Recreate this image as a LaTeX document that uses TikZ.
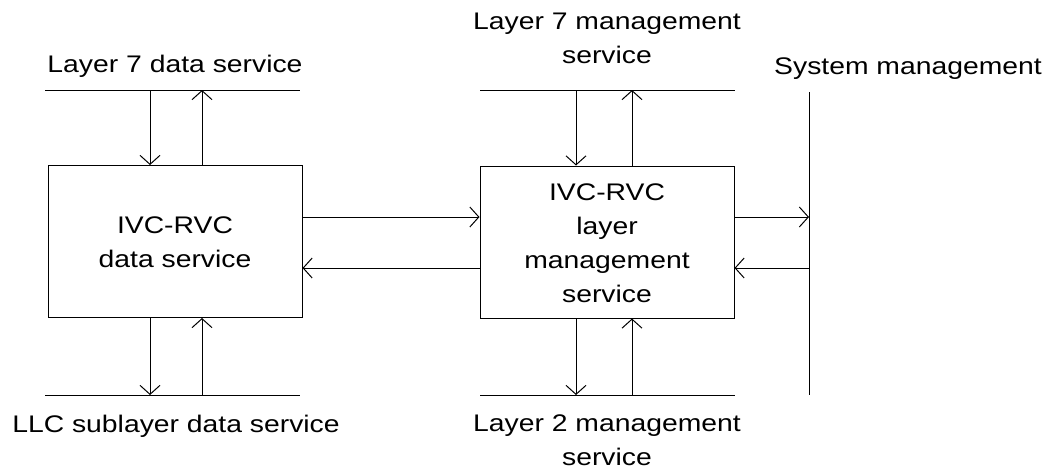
\documentclass[tikz,border=0pt]{standalone}
\usepackage{fontspec}
\setmainfont{Liberation Sans}[FakeStretch=1.18]
\usetikzlibrary{arrows.meta}
\begin{document}
\begin{tikzpicture}[x=1pt,y=-1pt,
  every node/.style={font=\fontsize{24}{34}\selectfont, inner sep=0pt},
  blk/.style={draw, line width=1pt, minimum width=254pt, minimum height=152pt, align=center},
  bus/.style={line width=1pt},
  arr/.style={line width=1pt, -{Straight Barb[length=9pt,width=20pt]}},
  lbl/.style={align=center, anchor=base}]
\useasboundingbox (0,0) rectangle (1053,472);
% boxes
\node[blk] (L) at (175,241.5) {};
\node[blk] (R) at (607,242) {};
\node[lbl] (Lt) at (175,267) {IVC-RVC\\data service};
\node[lbl] (Rt) at (607,302) {IVC-RVC\\layer\\management\\service};
% bus lines
\coordinate (lt1) at (45,90);  \coordinate (lt2) at (300,90);
\coordinate (lb1) at (45,395); \coordinate (lb2) at (300,395);
\coordinate (rt1) at (480,90);  \coordinate (rt2) at (735,90);
\coordinate (rb1) at (480,395); \coordinate (rb2) at (735,395);
\coordinate (s1) at (809,92); \coordinate (s2) at (809,395);
\draw[bus] (lt1) -- (lt2);
\draw[bus] (lb1) -- (lb2);
\draw[bus] (rt1) -- (rt2);
\draw[bus] (rb1) -- (rb2);
\draw[bus] (s1) -- (s2);
% vertical arrows left
\draw[arr] (lt1 -| 150,0) -- (L.north -| 150,0);
\draw[arr] (L.north -| 202,0) -- (lt1 -| 202,0);
\draw[arr] (L.south -| 150,0) -- (lb1 -| 150,0);
\draw[arr] (lb1 -| 202,0) -- (L.south -| 202,0);
% vertical arrows right
\draw[arr] (rt1 -| 576,0) -- (R.north -| 576,0);
\draw[arr] (R.north -| 632,0) -- (rt1 -| 632,0);
\draw[arr] (R.south -| 576,0) -- (rb1 -| 576,0);
\draw[arr] (rb1 -| 632,0) -- (R.south -| 632,0);
% horizontal arrows
\draw[arr] (L.east |- 0,217) -- (R.west |- 0,217);
\draw[arr] (R.west |- 0,268) -- (L.east |- 0,268);
\draw[arr] (R.east |- 0,217) -- (s1 |- 0,217);
\draw[arr] (s1 |- 0,268) -- (R.east |- 0,268);
% labels
\node[lbl] (t1) at (175,72) {Layer 7 data service};
\node[lbl] (t2) at (607,63) {Layer 7 management\\service};
\node[lbl] (t3) at (908,74) {System management};
\node[lbl] (t4) at (176,432) {LLC sublayer data service};
\node[lbl] (t5) at (607,465) {Layer 2 management\\service};
\end{tikzpicture}
\end{document}
